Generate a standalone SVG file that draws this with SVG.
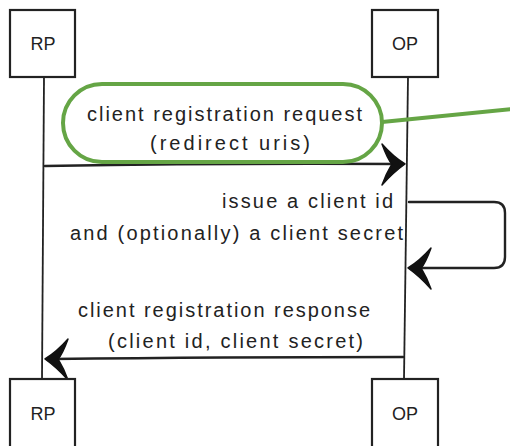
<svg xmlns="http://www.w3.org/2000/svg" width="510" height="446" viewBox="0 0 510 446">
<style>
.box{fill:#fff;stroke:#222;stroke-width:2.2}
.life{fill:none;stroke:#222;stroke-width:1.8}
.msg{fill:none;stroke:#222;stroke-width:2.4;stroke-linecap:round}
.t{font-family:"Liberation Sans",Arial,sans-serif;font-size:20px;fill:#222}
.lbl{font-family:"Liberation Sans",Arial,sans-serif;font-size:18px;fill:#222;text-anchor:middle}
.hl{fill:none;stroke:#65a545;stroke-width:4}
</style>
<defs>
<path id="ah" d="M0,0 C-8,-5 -16,-12 -23,-20 C-19,-9 -16,-3 -13,0 C-16,5 -20,13 -23,21 C-15,12 -7,5 0,0 Z" fill="#111" stroke="#111" stroke-width="1.5" stroke-linejoin="round"/>
</defs>
<rect width="510" height="446" fill="#fff"/>
<g id="connectors">
<path class="life" d="M44,77 L42,379"/>
<path class="life" d="M408,77 L404,379"/>
<path class="msg" d="M45,166 Q220,163 400,164"/>
<use href="#ah" transform="translate(405,164)"/>
<path class="msg" d="M409,202 H494 Q505,202 505,213 V257 Q505,268 494,268 H414"/>
<use href="#ah" transform="translate(408,268) scale(-1,1)"/>
<path class="msg" d="M403,357 Q220,357 52,359"/>
<use href="#ah" transform="translate(45,359) scale(-1,1)"/>
</g>
<g id="rp-top"><rect class="box" x="10" y="10" width="65" height="67"/><text class="lbl" x="43" y="50">RP</text></g>
<g id="op-top"><rect class="box" x="372" y="10" width="66" height="67"/><text class="lbl" x="405" y="50">OP</text></g>
<g id="rp-bottom"><rect class="box" x="10" y="379" width="65" height="70"/><text class="lbl" x="43" y="420">RP</text></g>
<g id="op-bottom"><rect class="box" x="372" y="379" width="66" height="70"/><text class="lbl" x="405" y="420">OP</text></g>
<g id="labels">
<text class="t" x="87" y="121" textLength="275" lengthAdjust="spacing">client registration request</text>
<text class="t" x="150" y="150" textLength="160" lengthAdjust="spacing">(redirect uris)</text>
<text class="t" x="222" y="208" textLength="171" lengthAdjust="spacing">issue a client id</text>
<text class="t" x="70" y="240" textLength="333" lengthAdjust="spacing">and (optionally) a client secret</text>
<text class="t" x="78" y="317" textLength="292" lengthAdjust="spacing">client registration response</text>
<text class="t" x="108" y="348" textLength="255" lengthAdjust="spacing">(client id, client secret)</text>
</g>
<g id="highlight">
<rect class="hl" x="63" y="84" width="319" height="78" rx="39"/>
<path class="hl" d="M382,122 L512,109"/>
</g>
</svg>
